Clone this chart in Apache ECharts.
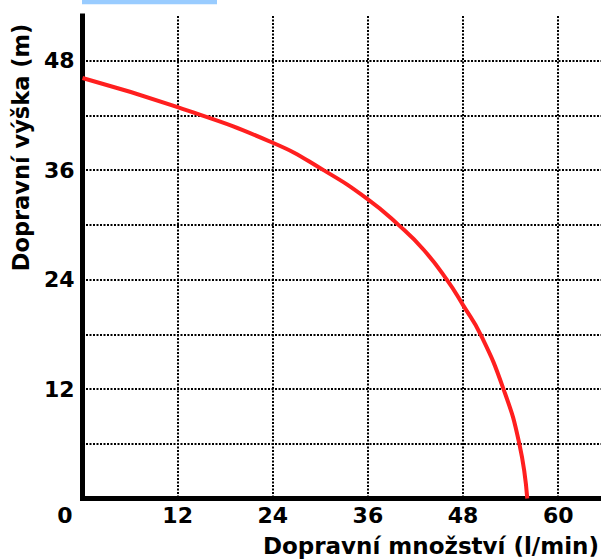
<!DOCTYPE html>
<html>
<head>
<meta charset="utf-8">
<script src="https://cdn.jsdelivr.net/npm/echarts@6/dist/echarts.min.js"></script>
<style>
html, body { margin: 0; padding: 0; background: #fff; }
#chart { width: 601px; height: 559px; }
</style>
</head>
<body>
<div id="chart"></div>
<script>
// Data
const flowValues = [0, 12, 24, 30.4, 36, 39.85, 43.0, 45.95, 48, 50.2, 53.1, 55.1, 56.1];   // l/min
const headValues = [46.1, 42.9, 39.0, 36, 32.8, 30, 27.3, 24, 21.2, 18, 12, 6, 0];         // m
const xTickLabels = [0, 12, 24, 36, 48, 60];
const yTickLabels = [12, 24, 36, 48];
const xTitle = 'Dopravní množství (l/min)';
const yTitle = 'Dopravní výška (m)';

const FONT = '"DejaVu Sans", "Liberation Sans", sans-serif';
const chart = echarts.init(document.getElementById('chart'), null, { renderer: 'svg' });

const gridLine = { show: true, showMinLine: false, showMaxLine: false,
  lineStyle: { color: '#000', width: 2, type: [2, 1.5] } };

chart.setOption({
  animation: false,
  backgroundColor: '#fff',
  grid: { left: 82.5, right: 0, top: 16, bottom: 60.5, containLabel: false },
  xAxis: {
    type: 'value', min: 0, max: 65.4, interval: 12,
    axisLine: { show: true, onZero: false, lineStyle: { color: '#000', width: 5, cap: 'square' } },
    axisTick: { show: false },
    splitLine: gridLine,
    axisLabel: {
      showMaxLabel: false, margin: 6,
      fontFamily: FONT, fontWeight: 'bold', fontSize: 22, color: '#000',
      formatter: v => xTickLabels.indexOf(v) < 0 ? '' : (v === 0 ? '{z|0}' : '' + v),
      rich: { z: { fontFamily: FONT, fontWeight: 'bold', fontSize: 22, color: '#000', padding: [0, 35, 0, 0] } }
    }
  },
  yAxis: {
    type: 'value', min: 0, max: 52.9, interval: 6,
    axisLine: { show: true, onZero: false, lineStyle: { color: '#000', width: 5, cap: 'square' } },
    axisTick: { show: false },
    splitLine: gridLine,
    axisLabel: {
      showMaxLabel: false, margin: 8,
      fontFamily: FONT, fontWeight: 'bold', fontSize: 22, color: '#000',
      formatter: v => yTickLabels.indexOf(v) < 0 ? '' : '' + v
    }
  },
  series: [{
    type: 'line',
    data: flowValues.map((x, i) => [x, headValues[i]]),
    smooth: true,
    showSymbol: false,
    lineStyle: { color: '#ff1f1f', width: 4 },
    z: 5
  }],
  graphic: [
    { type: 'rect', left: 82, top: 0, shape: { width: 135, height: 4.3 }, style: { fill: '#99ccff' }, silent: true },
    { type: 'text', x: 21, y: 147.5, rotation: Math.PI / 2,
      style: { text: yTitle, font: 'bold 22.5px ' + FONT, fill: '#000', textAlign: 'center', textVerticalAlign: 'middle' } },
    { type: 'text', x: 599, y: 546,
      style: { text: xTitle, font: 'bold 23px ' + FONT, fill: '#000', textAlign: 'right', textVerticalAlign: 'middle' } }
  ]
});
</script>
</body>
</html>
